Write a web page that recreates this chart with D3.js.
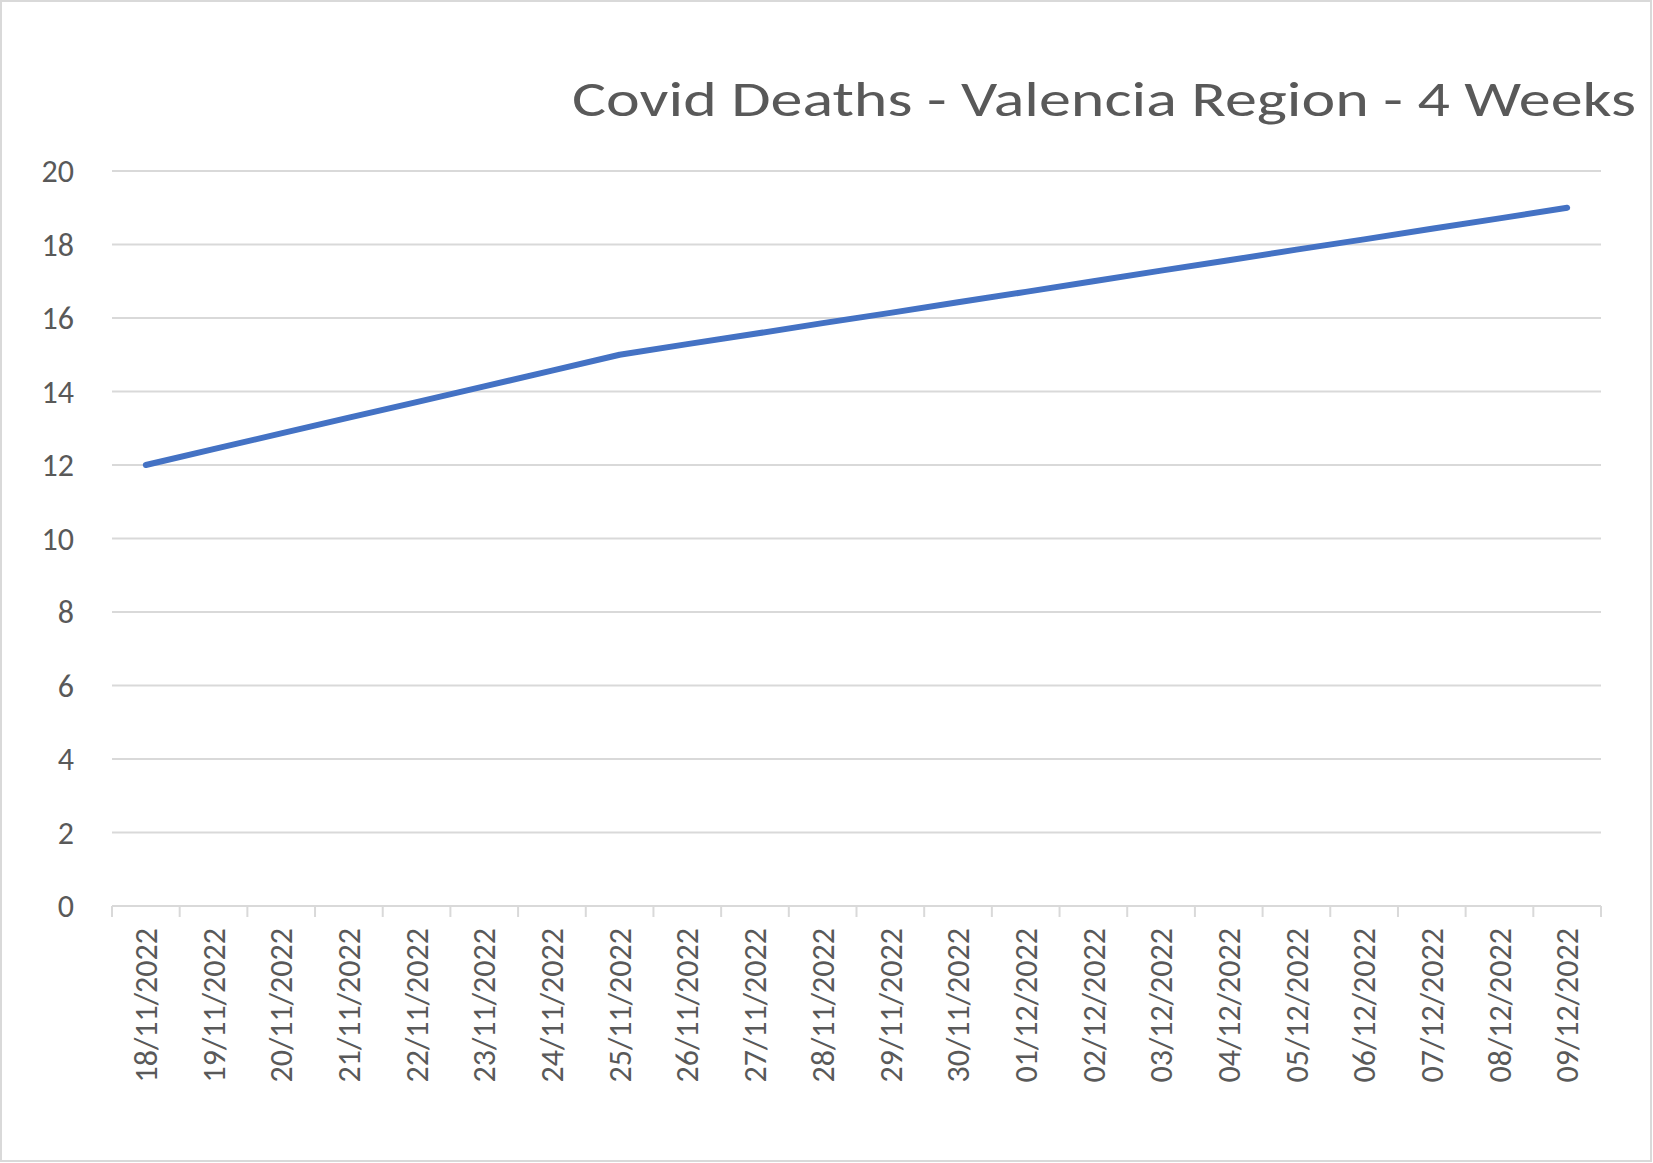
<!DOCTYPE html>
<html><head><meta charset="utf-8">
<script src="https://cdn.jsdelivr.net/npm/d3@7"></script>
<style>body{margin:0;background:#fff}</style>
</head><body>
<svg id="chart" width="1653" height="1163"></svg>
<script>
// chart data
const dates = ["18/11/2022","19/11/2022","20/11/2022","21/11/2022","22/11/2022","23/11/2022","24/11/2022",
  "25/11/2022","26/11/2022","27/11/2022","28/11/2022","29/11/2022","30/11/2022","01/12/2022","02/12/2022",
  "03/12/2022","04/12/2022","05/12/2022","06/12/2022","07/12/2022","08/12/2022","09/12/2022"];
const deaths = [12, 12.43, 12.86, 13.29, 13.71, 14.14, 14.57, 15, 15.29, 15.57, 15.86, 16.14,
  16.43, 16.71, 17, 17.29, 17.57, 17.86, 18.14, 18.43, 18.71, 19];
const yTicks = [0, 2, 4, 6, 8, 10, 12, 14, 16, 18, 20];

const svg = d3.select("#chart");
const font = "Calibri, Carlito, 'Open Sans', sans-serif";
const plotLeft = 112, plotRight = 1601, plotTop = 171, plotBottom = 906;

svg.append("rect").attr("x", 1).attr("y", 1).attr("width", 1650).attr("height", 1160)
  .style("fill", "#fff").style("stroke", "#d9d9d9").style("stroke-width", 2);

const x = d3.scaleBand().domain(dates).range([plotLeft, plotRight]);
const y = d3.scaleLinear().domain([0, 20]).range([plotBottom, plotTop]);

// gridlines
svg.append("g").selectAll("line").data(yTicks.filter(d => d > 0)).join("line")
  .attr("x1", plotLeft).attr("x2", plotRight)
  .attr("y1", d => y(d)).attr("y2", d => y(d))
  .style("stroke", "#d9d9d9").style("stroke-width", 2);

// y labels
svg.append("g").selectAll("text").data(yTicks).join("text")
  .attr("x", 74).attr("y", d => y(d)).attr("dy", "0.35em")
  .attr("text-anchor", "end")
  .style("font-family", font).style("font-size", "32px").style("fill", "#595959")
  .text(d => d);

// x axis
const xAxis = svg.append("g");
xAxis.append("line").attr("x1", plotLeft).attr("x2", plotRight).attr("y1", plotBottom).attr("y2", plotBottom)
  .style("stroke", "#d9d9d9").style("stroke-width", 2);
xAxis.selectAll("line.tick").data(d3.range(dates.length + 1)).join("line")
  .attr("class", "tick")
  .attr("x1", i => plotLeft + i * x.bandwidth()).attr("x2", i => plotLeft + i * x.bandwidth())
  .attr("y1", plotBottom).attr("y2", plotBottom + 11)
  .style("stroke", "#d9d9d9").style("stroke-width", 2);
xAxis.selectAll("text").data(dates).join("text")
  .attr("transform", d => `translate(${x(d) + x.bandwidth() / 2},928) rotate(-90)`)
  .attr("dy", "0.35em").attr("text-anchor", "end")
  .style("font-family", font).style("font-size", "32px").style("fill", "#595959")
  .text(d => d);

// line
const line = d3.line()
  .x((d, i) => x(dates[i]) + x.bandwidth() / 2)
  .y(d => y(d));
svg.append("path").datum(deaths).attr("d", line)
  .style("fill", "none").style("stroke", "#4472c4")
  .style("stroke-width", 6).style("stroke-linecap", "round").style("stroke-linejoin", "round");

// title
svg.append("text").attr("x", 1636).attr("y", 116).attr("text-anchor", "end")
  .attr("textLength", 1064).attr("lengthAdjust", "spacingAndGlyphs")
  .style("font-family", font).style("font-size", "50px").style("fill", "#595959")
  .text("Covid Deaths - Valencia Region - 4 Weeks");
</script>
</body></html>
